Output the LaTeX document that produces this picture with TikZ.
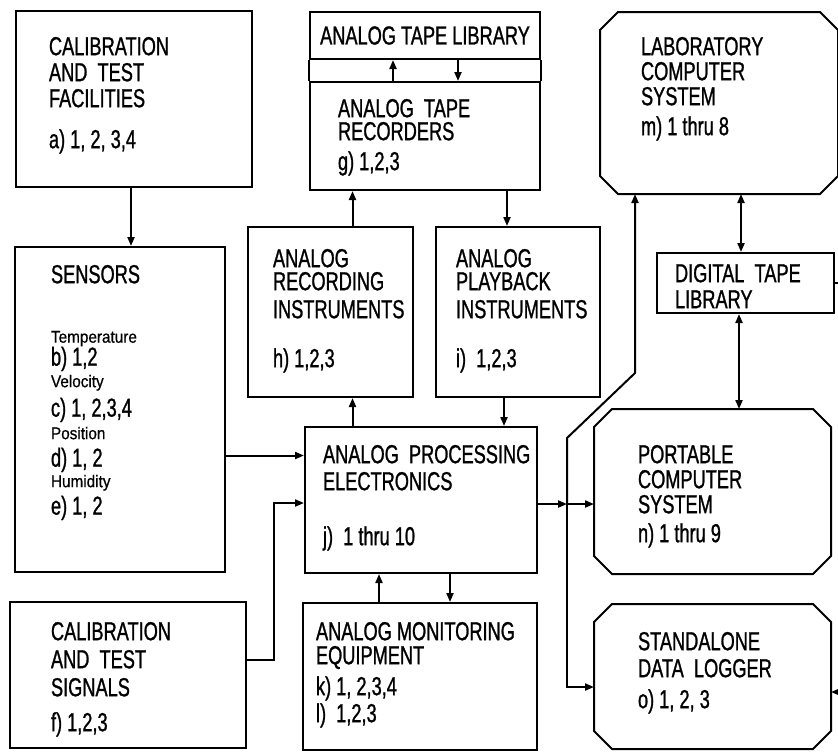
\documentclass[tikz,border=0pt]{standalone}
\usepackage{fontspec}
\setmainfont{Liberation Sans}[FakeStretch=0.7, FakeBold=1]
\newfontfamily\smallfam{Liberation Sans}[FakeStretch=0.9, FakeBold=0.6]
\usetikzlibrary{arrows.meta,calc}

\newcommand{\qty}[1]{{\smallfam\fontsize{8.5}{8.5}\selectfont #1}}
% box with cut corners, drawn round a named node
\newcommand{\chamf}[1]{%
  \draw ([xshift=9pt]#1.north west) -- ([xshift=-9pt]#1.north east)
    -- ([yshift=-9pt]#1.north east) -- ([yshift=9pt]#1.south east)
    -- ([xshift=-9pt]#1.south east) -- ([xshift=9pt]#1.south west)
    -- ([yshift=9pt]#1.south west) -- ([yshift=-9pt]#1.north west) -- cycle;}

\begin{document}
\begin{tikzpicture}[
  x=0.5pt, y=-0.5pt, >={Triangle[length=4.5pt,width=3.5pt]},
  line width=1pt, font=\fontsize{13}{13}\selectfont,
  box/.style={draw, inner sep=0pt},
  cbox/.style={inner sep=0pt},
  txt/.style={anchor=north west, align=left, inner sep=0pt},
]
  \useasboundingbox (0,0) rectangle (838,751);

  % boxes
  \node[box, minimum width=118pt, minimum height=88pt]   (fac)    at (134,99)    {};
  \node[box, minimum width=105pt, minimum height=162.5pt] (sens)  at (120,409.5) {};
  \node[box, minimum width=118pt, minimum height=73pt]   (sig)    at (128,675)   {};
  \node[box, minimum width=115pt, minimum height=23.5pt] (lib)    at (425,35.5)  {ANALOG TAPE LIBRARY};
  \node[box, minimum width=115pt, minimum height=54pt]   (rec)    at (425,136)   {};
  \node[box, minimum width=82.5pt, minimum height=85pt]  (recin)  at (330.5,312) {};
  \node[box, minimum width=82pt, minimum height=85pt]    (play)   at (518,312)   {};
  \node[box, minimum width=116pt, minimum height=73pt]   (ape)    at (421,500)   {};
  \node[box, minimum width=117pt, minimum height=73.5pt] (mon)    at (420,676.5) {};
  \node[cbox, minimum width=118pt, minimum height=90pt]  (lab)    at (719,103)   {};
  \node[box, minimum width=88.5pt, minimum height=30pt]  (dtl)    at (745.5,283) {};
  \node[cbox, minimum width=117.5pt, minimum height=81.5pt] (port) at (712.5,491.5) {};
  \node[cbox, minimum width=117.5pt, minimum height=71.5pt] (logger) at (712.5,676.5) {};
  \chamf{lab} \chamf{port} \chamf{logger}

  % texts
  \node[txt] (fac-t) at (48,36) {CALIBRATION\\AND\ \ TEST\\FACILITIES\\[7.5pt]a) 1, 2, 3,4};
  \node[txt] (sens-t) at (50,264) {SENSORS\\[16.75pt]
    \qty{Temperature}\\[-1.5pt]b) 1,2\\[-2.25pt]
    \qty{Velocity}\\[1.75pt]c) 1, 2,3,4\\[-1.75pt]
    \qty{Position}\\[0.75pt]d) 1, 2\\[-2.75pt]
    \qty{Humidity}\\[0.75pt]e) 1, 2};
  \node[txt] (sig-t) at (50,621) {CALIBRATION\\[1pt]AND\ \ TEST\\[1pt]SIGNALS\\[4.5pt]f) 1,2,3};
  \node[txt] (rec-t) at (337,98) {ANALOG\ \ TAPE\\[-1.5pt]RECORDERS\\[2pt]g) 1,2,3};
  \node[txt] (recin-t) at (272,248) {ANALOG\\[-1.5pt]RECORDING\\[1pt]INSTRUMENTS\\[11.5pt]h) 1,2,3};
  \node[txt] (play-t) at (455,248) {ANALOG\\[-1.5pt]PLAYBACK\\[1pt]INSTRUMENTS\\[11.5pt]i)\ \ 1,2,3};
  \node[txt] (ape-t) at (322,444) {ANALOG\ \ PROCESSING\\[0.5pt]ELECTRONICS\\[14.5pt]j)\ \ 1 thru 10};
  \node[txt] (mon-t) at (315,621) {ANALOG\ MONITORING\\[-1pt]EQUIPMENT\\[2.5pt]k)\ 1, 2,3,4\\[0.5pt]l)\ \ 1,2,3};
  \node[txt] (lab-t) at (640,36) {LABORATORY\\[-0.5pt]COMPUTER\\[-0.5pt]SYSTEM\\[2pt]m) 1 thru 8};
  \node[txt] (dtl-t) at (674,263) {DIGITAL\ \ TAPE\\LIBRARY};
  \node[txt] (port-t) at (637,444) {PORTABLE\\[-0.5pt]COMPUTER\\[-0.5pt]SYSTEM\\[1.5pt]n) 1 thru 9};
  \node[txt] (logger-t) at (637,631) {STANDALONE\\[0.5pt]DATA\ \ LOGGER\\[2.5pt]o) 1, 2, 3};

  \coordinate (bus) at (567,504);
  \coordinate (edge) at (838,0);

  % tape library / recorders
  \draw (lib.south west) -- (rec.north west);
  \draw (lib.south east) -- (rec.north east);
  \draw[->] ([xshift=-16pt]rec.north) -- ([xshift=-16pt]lib.south);
  \draw[->] ([xshift=16.5pt]lib.south) -- ([xshift=16.5pt]rec.north);

  % connectors
  \draw[->] ([xshift=-1.5pt]fac.south) -- ([xshift=-1.5pt]fac.south |- sens.north);
  \draw[->] ([xshift=11pt]recin.north) -- ([xshift=11pt]recin.north |- rec.south);
  \draw[->] ([xshift=-5.5pt]play.north |- rec.south) -- ([xshift=-5.5pt]play.north);
  \draw[->] ([xshift=11pt]recin.south |- ape.north) -- ([xshift=11pt]recin.south);
  \draw[->] ([xshift=-7pt]play.south) -- ([xshift=-7pt]play.south |- ape.north);
  \draw[->] ([yshift=-23pt]sens.east) -- ([yshift=-23pt]sens.east -| ape.west);
  \draw[->] ([yshift=7.5pt]sig.east) -| ([xshift=-15pt,yshift=-1.5pt]ape.west)
    -- ([yshift=-1.5pt]ape.west);
  \draw[->] ([xshift=-20.5pt]mon.north) -- ([xshift=-20.5pt]mon.north |- ape.south);
  \draw[->] ([xshift=14.5pt]ape.south) -- ([xshift=14.5pt]ape.south |- mon.north);

  \draw[->] ([yshift=-2pt]ape.east) -- (bus);
  \draw[->] (bus) -- (bus -| port.west);
  \draw[->] (bus) |- ([yshift=-5.25pt]logger.west);
  \draw[->] (bus) -- ++(0,-66) -- ++(68,-65) -- ([xshift=-42pt]lab.south);

  \draw[<->] ([xshift=-2.25pt]dtl.north) -- ([xshift=-2.25pt]dtl.north |- lab.south);
  \draw[<->] ([xshift=-3.25pt]dtl.south) -- ([xshift=-3.25pt]dtl.south |- port.north);
  \draw (dtl.east) -- (dtl.east -| edge);
  \draw[->] ([yshift=-7.75pt]logger.east -| edge) -- ([yshift=-7.75pt]logger.east);
\end{tikzpicture}
\end{document}
